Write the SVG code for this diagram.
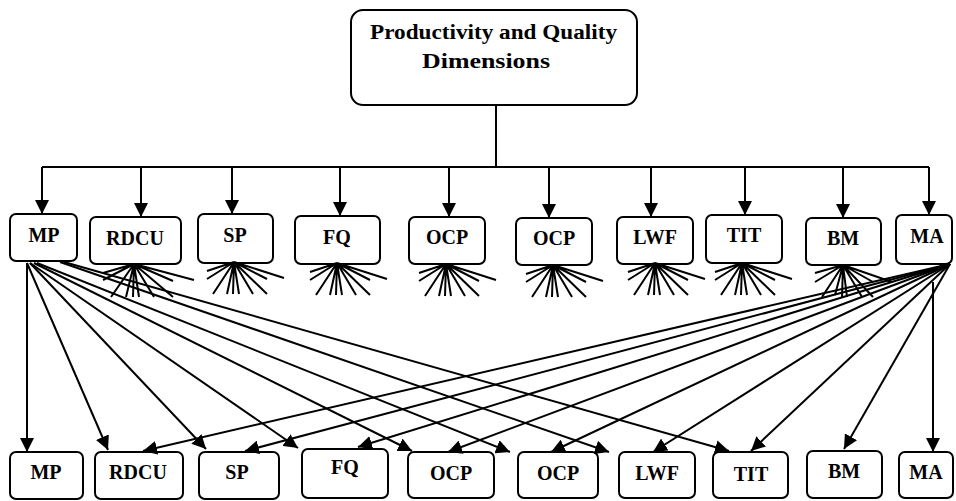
<svg xmlns="http://www.w3.org/2000/svg" width="956" height="501" viewBox="0 0 956 501">
<defs>
<marker id="ah" markerUnits="userSpaceOnUse" markerWidth="14" markerHeight="14" refX="14" refY="7" orient="auto">
<path d="M0,0 L14,7 L0,14 z" fill="#000"/>
</marker>
<style>
.box{fill:#fff;stroke:#000;stroke-width:2}
.t{font-family:"Liberation Serif","Times New Roman",serif;font-weight:bold;font-size:20px;fill:#000;text-anchor:middle}
.tt{font-family:"Liberation Serif","Times New Roman",serif;font-weight:bold;font-size:20px;fill:#000}
.c{stroke:#000;stroke-width:2;fill:none}
.a{stroke:#000;stroke-width:2;fill:none;marker-end:url(#ah)}
.f{stroke:#000;stroke-width:2}
</style>
</defs>
<rect width="956" height="501" fill="#fff"/>

<g id="root">
<rect class="box" x="351" y="10" width="286" height="95" rx="12"/>
<text class="tt" x="370" y="39" textLength="247" lengthAdjust="spacingAndGlyphs">Productivity and Quality</text>
<text class="tt" x="422" y="68" textLength="128" lengthAdjust="spacingAndGlyphs">Dimensions</text>
</g>

<g id="top-MP"><rect class="box" x="10" y="214" width="67" height="47" rx="6"/><text class="t" x="44" y="242">MP</text></g>
<g id="top-RDCU"><rect class="box" x="90" y="217" width="91" height="47" rx="6"/><text class="t" x="135" y="245">RDCU</text></g>
<g id="top-SP"><rect class="box" x="198" y="214" width="75" height="49" rx="6"/><text class="t" x="235" y="242">SP</text></g>
<g id="top-FQ"><rect class="box" x="295" y="216" width="85" height="48" rx="6"/><text class="t" x="337" y="244">FQ</text></g>
<g id="top-OCP1"><rect class="box" x="409" y="217" width="76" height="47" rx="6"/><text class="t" x="447" y="244">OCP</text></g>
<g id="top-OCP2"><rect class="box" x="516" y="218" width="76" height="47" rx="6"/><text class="t" x="554" y="245">OCP</text></g>
<g id="top-LWF"><rect class="box" x="617" y="217" width="76" height="47" rx="6"/><text class="t" x="655" y="244">LWF</text></g>
<g id="top-TIT"><rect class="box" x="706" y="215" width="76" height="48" rx="6"/><text class="t" x="744" y="242">TIT</text></g>
<g id="top-BM"><rect class="box" x="806" y="218" width="75" height="47" rx="6"/><text class="t" x="843" y="245">BM</text></g>
<g id="top-MA"><rect class="box" x="896" y="215" width="56" height="49" rx="6"/><text class="t" x="927" y="243">MA</text></g>

<g id="bot-MP"><rect class="box" x="10" y="452" width="73" height="47" rx="6"/><text class="t" x="46" y="479">MP</text></g>
<g id="bot-RDCU"><rect class="box" x="95" y="452" width="88" height="47" rx="6"/><text class="t" x="138" y="479">RDCU</text></g>
<g id="bot-SP"><rect class="box" x="199" y="452" width="80" height="47" rx="6"/><text class="t" x="237" y="479">SP</text></g>
<g id="bot-FQ"><rect class="box" x="302" y="449" width="86" height="49" rx="6"/><text class="t" x="345" y="474">FQ</text></g>
<g id="bot-OCP1"><rect class="box" x="408" y="452" width="86" height="46" rx="6"/><text class="t" x="451" y="480">OCP</text></g>
<g id="bot-OCP2"><rect class="box" x="518" y="452" width="80" height="46" rx="6"/><text class="t" x="558" y="480">OCP</text></g>
<g id="bot-LWF"><rect class="box" x="619" y="452" width="76" height="46" rx="6"/><text class="t" x="657" y="480">LWF</text></g>
<g id="bot-TIT"><rect class="box" x="713" y="452" width="75" height="46" rx="6"/><text class="t" x="751" y="481">TIT</text></g>
<g id="bot-BM"><rect class="box" x="807" y="451" width="75" height="47" rx="6"/><text class="t" x="844" y="478">BM</text></g>
<g id="bot-MA"><rect class="box" x="899" y="452" width="54" height="46" rx="6"/><text class="t" x="926" y="479">MA</text></g>

<g id="connectors">
<path class="c" d="M496,105 V167 M42,167 H929"/>
<path class="a" d="M42,167 V214"/>
<path class="a" d="M141,167 V217"/>
<path class="a" d="M232,167 V214"/>
<path class="a" d="M340,167 V216"/>
<path class="a" d="M449,167 V217"/>
<path class="a" d="M549,167 V218"/>
<path class="a" d="M651,167 V217"/>
<path class="a" d="M745,167 V215"/>
<path class="a" d="M843,167 V218"/>
<path class="a" d="M929,167 V215"/>

<path class="a" d="M27,263 V452"/>
<path class="a" d="M27,263 L108,450"/>
<path class="a" d="M30,263 L206,449"/>
<path class="a" d="M30,263 L298,448"/>
<path class="a" d="M34,263 L412,451"/>
<path class="a" d="M37,263 L510,452"/>
<path class="a" d="M60,262 L609,452"/>
<path class="a" d="M64,262 L729,451"/>

<path class="a" d="M950,264 L143,451"/>
<path class="a" d="M950,264 L245,451"/>
<path class="a" d="M950,264 L358,447"/>
<path class="a" d="M950,264 L448,452"/>
<path class="a" d="M950,264 L551,452"/>
<path class="a" d="M950,264 L653,452"/>
<path class="a" d="M950,264 L751,451"/>
<path class="a" d="M950,264 L844,449"/>
<path class="a" d="M933,282 V452"/>
</g>

<g id="fans">
<g transform="translate(134,264)"><path class="f" d="M0,0 L-31,9 M0,0 L-31,16 M0,0 L-23,33 M0,0 L-8,33 M0,0 L-1,33 M0,0 L5,33 M0,0 L20,33 M0,0 L39,33 M0,0 L39,17 M0,0 L60,16"/></g>
<g transform="translate(234,262)"><path class="f" d="M0,0 L-27,9 M0,0 L-27,17 M0,0 L-21,32 M0,0 L-7,32 M0,0 L-1,32 M0,0 L5,32 M0,0 L19,32 M0,0 L33,32 M0,0 L33,17 M0,0 L50,16"/></g>
<g transform="translate(337,263)"><path class="f" d="M0,0 L-27,9 M0,0 L-27,17 M0,0 L-21,32 M0,0 L-7,32 M0,0 L-1,32 M0,0 L5,32 M0,0 L19,32 M0,0 L33,32 M0,0 L33,17 M0,0 L50,16"/></g>
<g transform="translate(446,264)"><path class="f" d="M0,0 L-27,9 M0,0 L-27,17 M0,0 L-21,32 M0,0 L-7,32 M0,0 L-1,32 M0,0 L5,32 M0,0 L19,32 M0,0 L33,32 M0,0 L33,17 M0,0 L50,16"/></g>
<g transform="translate(553,265)"><path class="f" d="M0,0 L-27,9 M0,0 L-27,17 M0,0 L-21,32 M0,0 L-7,32 M0,0 L-1,32 M0,0 L5,32 M0,0 L19,32 M0,0 L33,32 M0,0 L33,17 M0,0 L50,16"/></g>
<g transform="translate(655,263)"><path class="f" d="M0,0 L-27,9 M0,0 L-27,17 M0,0 L-21,32 M0,0 L-7,32 M0,0 L-1,32 M0,0 L5,32 M0,0 L19,32 M0,0 L33,32 M0,0 L33,17 M0,0 L50,16"/></g>
<g transform="translate(742,263)"><path class="f" d="M0,0 L-27,9 M0,0 L-27,17 M0,0 L-21,32 M0,0 L-7,32 M0,0 L-1,32 M0,0 L5,32 M0,0 L19,32 M0,0 L33,32 M0,0 L33,17 M0,0 L50,16"/></g>
<g transform="translate(843,265)"><path class="f" d="M0,0 L-28,8 M0,0 L-28,17 M0,0 L-21,32 M0,0 L-8,30 M0,0 L-1,32 M0,0 L4,32 M0,0 L19,32 M0,0 L30,32 M0,0 L30,17 M0,0 L49,17"/></g>
</g>
</svg>
